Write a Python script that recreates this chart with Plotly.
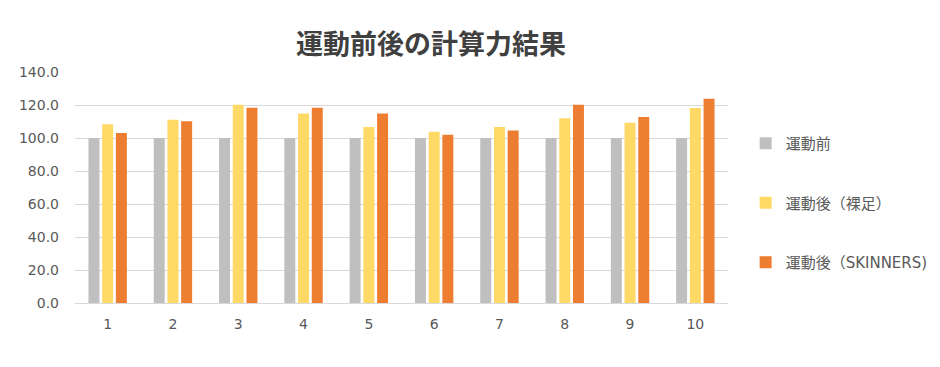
import plotly.graph_objects as go

categories = ["1", "2", "3", "4", "5", "6", "7", "8", "9", "10"]
before = [100, 100, 100, 100, 100, 100, 100, 100, 100, 100]
after_barefoot = [108.4, 111.0, 120.2, 114.8, 106.6, 103.8, 106.6, 112.0, 109.2, 118.2]
after_skinners = [103.0, 110.2, 118.4, 118.4, 114.8, 102.0, 104.6, 120.2, 112.8, 123.8]
series_names = ["運動前", "運動後（裸足）", "運動後（SKINNERS)"]
colors = ["#BFBFBF", "#FFD966", "#ED7D31"]

FONT = "DejaVu Sans, Noto Sans CJK JP"
TITLE_FONT = "Noto Sans CJK JP"

fig = go.Figure()
for i, (name, vals) in enumerate(zip(series_names, [before, after_barefoot, after_skinners])):
    fig.add_trace(go.Bar(
        x=categories, y=vals, name=name, marker_color=colors[i],
        marker_line_width=0, legendgroup=f"g{i}",
    ))

fig.update_layout(
    width=960, height=367,
    paper_bgcolor="white", plot_bgcolor="white",
    margin=dict(l=67, r=240, t=64, b=72),
    barmode="group", bargap=0.37, bargroupgap=0.2,
    font=dict(family=FONT, color="#595959", size=14),
    title=dict(
        text="<b>運動前後の計算力結果</b>",
        x=423 / 960, xref="container", xanchor="center",
        y=1 - 37 / 367, yref="container", yanchor="middle",
        font=dict(family=TITLE_FONT, size=27, color="#404040"),
    ),
    legend=dict(
        x=1.027, xanchor="left", y=0.433, yanchor="middle",
        traceorder="grouped", tracegroupgap=37,
        font=dict(family=FONT, size=15, color="#595959"),
        itemwidth=30,
    ),
    showlegend=True,
)
fig.update_yaxes(
    range=[0, 140], dtick=20, tickformat=".1f",
    showgrid=True, gridcolor="#D9D9D9", gridwidth=1,
    zeroline=False, showline=False, ticks="", ticklen=0,
    ticklabelstandoff=15,
    tickfont=dict(family=FONT, size=14, color="#595959"),
)
fig.update_xaxes(
    showline=True, linecolor="#D9D9D9", linewidth=1,
    ticks="", ticklabelstandoff=8,
    tickfont=dict(family=FONT, size=14, color="#595959"),
)

fig.write_html("out.html")
